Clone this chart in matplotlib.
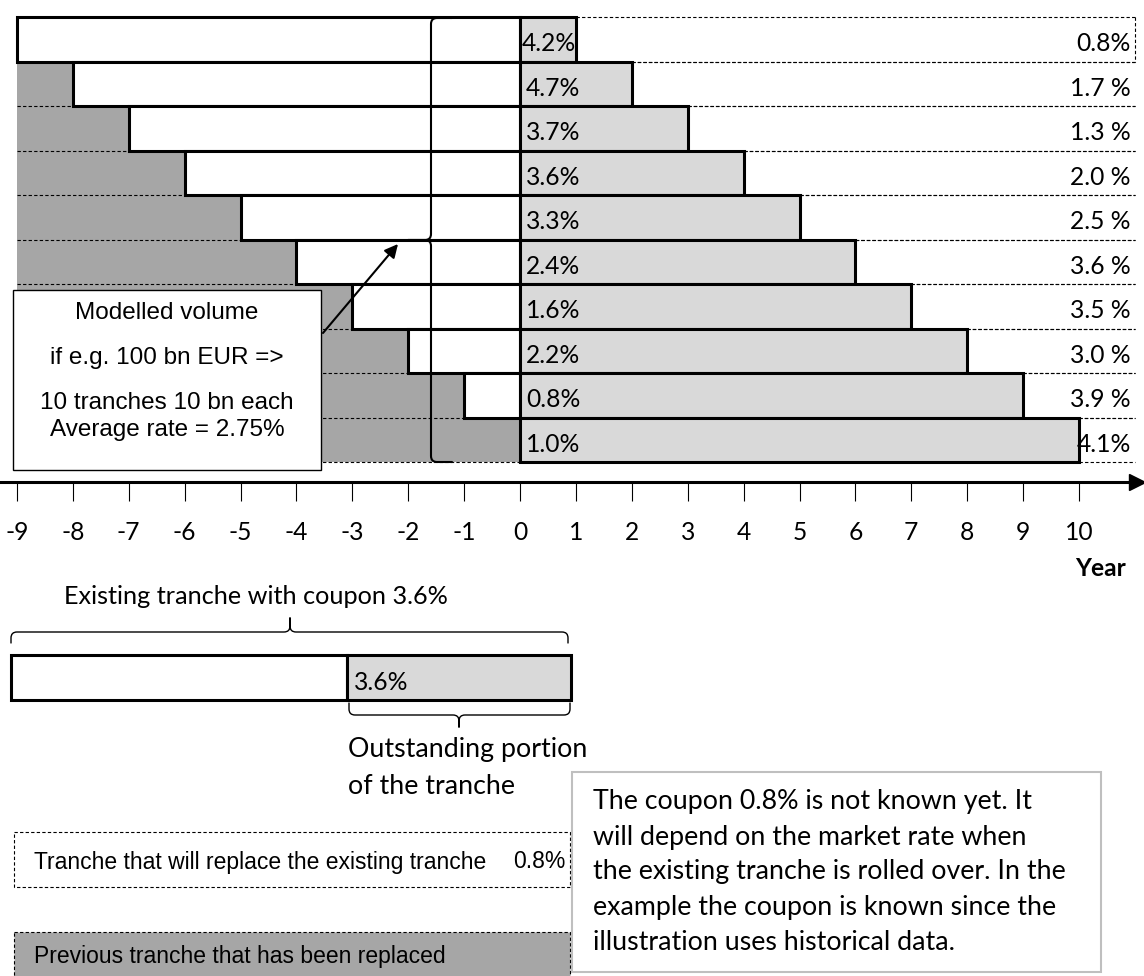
import matplotlib
matplotlib.use("Agg")
import matplotlib.pyplot as plt
from matplotlib.patches import Rectangle, PathPatch
from matplotlib.path import Path

# ten tranches of 10 years each, one is rolled over every year
issue_year = [-9, -8, -7, -6, -5, -4, -3, -2, -1, 0]
maturity_year = [1, 2, 3, 4, 5, 6, 7, 8, 9, 10]
coupon = ["4.2%", "4.7%", "3.7%", "3.6%", "3.3%", "2.4%", "1.6%", "2.2%", "0.8%", "1.0%"]
new_coupon = ["0.8%", "1.7 %", "1.3 %", "2.0 %", "2.5 %", "3.6 %", "3.5 %", "3.0 %", "3.9 %", "4.1%"]
years = list(range(-9, 11))
first_year = -9
last_year = 11

model_text = ["Modelled volume", "if e.g. 100 bn EUR =>", "10 tranches 10 bn each", "Average rate = 2.75%"]
note_text = ["The coupon 0.8% is not known yet. It",
             "will depend on the market rate when",
             "the existing tranche is rolled over. In the",
             "example the coupon is known since the",
             "illustration uses historical data."]

CAL = "Lato"
ARIAL = "Liberation Sans"
DARK = "#a6a6a6"
LIGHT = "#d9d9d9"
DASH = (0, (3, 2))

W, H = 1144, 976
X0, UNIT = 520, 55.9      # pixel of year 0, pixels per year
TOP, ROW = 17, 44.5       # top of first row, row height in pixels
AXIS_Y = 482

fig = plt.figure(figsize=(W / 100, H / 100), dpi=100)
renderer = fig.canvas.get_renderer()


def size_for(s, width, family, weight="normal"):
    t = fig.text(0, 0, s, fontsize=20, family=family, weight=weight)
    w = t.get_window_extent(renderer).width
    t.remove()
    return 20 * width / w


fs_num = size_for("4.7%", 54, CAL)
fs_txt = size_for("Outstanding portion", 239, CAL)
fs_head = size_for("Existing tranche with coupon 3.6%", 385, CAL)
fs_note = size_for(note_text[0], 439, CAL)
fs_model = size_for(model_text[2], 253, ARIAL)
fs_leg = size_for("Tranche that will replace the existing tranche", 452, ARIAL)

# main chart, data coordinates: years / rows
ax = fig.add_axes([0, 1 - AXIS_Y / H, 1, AXIS_Y / H])
ax.set_xlim(-X0 / UNIT, (W - X0) / UNIT)
ax.set_ylim((AXIS_Y - TOP) / ROW - 0.5, -TOP / ROW - 0.5)
rows = list(range(len(coupon)))

replaced = [s - first_year for s in issue_year]
ax.barh(rows, replaced, left=first_year, height=1, color=DARK, lw=0, zorder=1)
for i in rows:
    if replaced[i] > 0:
        ax.plot([first_year, issue_year[i]], [i + 0.5, i + 0.5], color="k", lw=0.8, ls=DASH, zorder=2)
    ax.plot([maturity_year[i], last_year], [i - 0.5, i - 0.5], color="k", lw=0.8, ls=DASH, zorder=2)
    ax.plot([maturity_year[i], last_year], [i + 0.5, i + 0.5], color="k", lw=0.8, ls=DASH, zorder=2)
ax.plot([last_year, last_year], [-0.5, 0.5], color="k", lw=0.8, ls=DASH, zorder=2)

old = [i for i in rows if issue_year[i] < 0]
ax.barh(old, [-issue_year[i] for i in old], left=[issue_year[i] for i in old], height=1,
        facecolor="white", edgecolor="k", lw=2.2, zorder=3)
ax.barh(rows, maturity_year, left=0, height=1, facecolor=LIGHT, edgecolor="k", lw=2.2, zorder=3)

for i in rows:
    ax.text(0.03 if i == 0 else 0.11, i + 0.27, coupon[i], ha="left", va="baseline",
            family=CAL, fontsize=fs_num, zorder=4)
    ax.text(last_year - 0.07, i + 0.27, new_coupon[i], ha="right", va="baseline",
            family=CAL, fontsize=fs_num, zorder=4)

for s in ["top", "left", "right"]:
    ax.spines[s].set_visible(False)
ax.spines["bottom"].set_linewidth(2.2)
ax.set_yticks([])
ax.set_xticks(years, [str(y) for y in years])
ax.tick_params(axis="x", direction="out", length=14, width=0.8, pad=14, labelsize=fs_num)
for lab in ax.get_xticklabels():
    lab.set_family(CAL)

# overlay in pixel coordinates for braces, boxes and the legend
ax2 = fig.add_axes([0, 0, 1, 1])
ax2.set_xlim(0, W)
ax2.set_ylim(H, 0)
ax2.axis("off")


def brace(x0, y0, length, mid, tip, end, vertical, s=1, lw=1.2):
    r = 6
    pts = [(0, end), (0, r), (0, 0), (r, 0), (mid - r, 0), (mid, 0), (mid, -r), (mid, -tip),
           (mid, -r), (mid, 0), (mid + r, 0), (length - r, 0), (length, 0), (length, r), (length, end)]
    codes = [Path.MOVETO, Path.LINETO, Path.CURVE3, Path.CURVE3, Path.LINETO, Path.CURVE3, Path.CURVE3,
             Path.LINETO, Path.LINETO, Path.CURVE3, Path.CURVE3, Path.LINETO, Path.CURVE3, Path.CURVE3,
             Path.LINETO]
    if vertical:
        xy = [(x0 + s * v, y0 + u) for u, v in pts]
    else:
        xy = [(x0 + u, y0 + s * v) for u, v in pts]
    ax2.add_patch(PathPatch(Path(xy, codes), facecolor="none", edgecolor="k", lw=lw,
                            capstyle="round", joinstyle="round"))


ax2.plot([W - 7], [AXIS_Y], marker=">", color="k", ms=11)
ax2.text(1100, 568, "Year", ha="center", va="center", weight="bold", family=CAL, fontsize=fs_num)

brace(431, 18, 444, 222, 23, 21, vertical=True, s=1, lw=1.5)

ax2.add_patch(Rectangle((13, 290), 308, 180, facecolor="white", edgecolor="k", lw=1))
for txt, y in zip(model_text, [313, 358, 403, 430]):
    ax2.text(167, y, txt, ha="center", va="center", family=ARIAL, fontsize=fs_model)
ax2.annotate("", xy=(398, 244), xytext=(323, 333),
             arrowprops=dict(arrowstyle="-|>", color="k", lw=1.5, mutation_scale=20,
                             shrinkA=0, shrinkB=0))

# legend
ax2.text(256, 597, "Existing tranche with coupon 3.6%", ha="center", va="center",
         family=CAL, fontsize=fs_head)
brace(11, 632, 557, 279, 14, 11, vertical=False, s=1, lw=1)
ax2.add_patch(Rectangle((11, 655), 336, 45, facecolor="white", edgecolor="k", lw=2.2))
ax2.add_patch(Rectangle((347, 655), 224, 45, facecolor=LIGHT, edgecolor="k", lw=2.2))
ax2.text(354, 690, "3.6%", ha="left", va="baseline", family=CAL, fontsize=fs_num)
brace(349, 715, 221, 110, 12, 12, vertical=False, s=-1, lw=1)
ax2.text(348, 750, "Outstanding portion", ha="left", va="center", family=CAL, fontsize=fs_txt)
ax2.text(348, 787, "of the tranche", ha="left", va="center", family=CAL, fontsize=fs_txt)

ax2.add_patch(Rectangle((14, 832), 556, 55, facecolor="none", edgecolor="k", lw=0.8, ls=DASH))
ax2.text(34, 862, "Tranche that will replace the existing tranche", ha="left", va="center",
         family=ARIAL, fontsize=fs_leg)
ax2.text(566, 862, "0.8%", ha="right", va="center", family=ARIAL, fontsize=fs_leg)
ax2.add_patch(Rectangle((14, 932), 556, 60, facecolor=DARK, edgecolor="k", lw=0.8, ls=DASH))
ax2.text(34, 957, "Previous tranche that has been replaced", ha="left", va="center",
         family=ARIAL, fontsize=fs_leg)

ax2.add_patch(Rectangle((572, 772), 529, 200, facecolor="white", edgecolor="#bfbfbf", lw=1.5))
for txt, y in zip(note_text, [802, 837, 872, 908, 943]):
    ax2.text(593, y, txt, ha="left", va="center", family=CAL, fontsize=fs_note)

fig.savefig("out.png", dpi=100)
